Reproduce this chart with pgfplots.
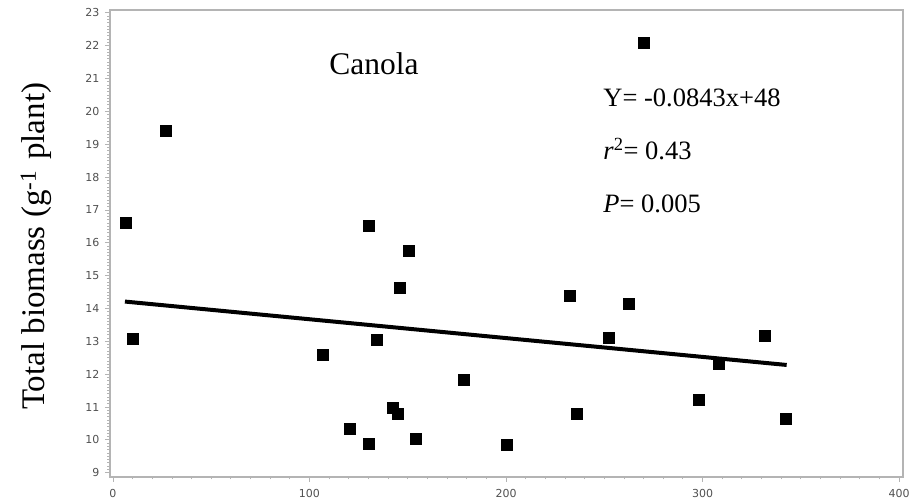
\documentclass[border=0pt]{standalone}
\usepackage{fontspec}
\setmainfont{Liberation Serif}
\newfontfamily\tickfont{DejaVu Sans}
\usepackage{pgfplots}
\pgfplotsset{compat=1.18}
\definecolor{axisgray}{HTML}{B4B4B4}
\definecolor{labgray}{HTML}{505050}
\begin{document}
\begin{tikzpicture}
\begin{axis}[
  scale only axis,
  width=793pt, height=467pt,
  xmin=-1.5, xmax=402,
  ymin=8.87, ymax=23.085,
  xtick={0,100,200,300,400},
  ytick={9,10,...,23},
  minor tick num=9,
  tick pos=left,
  tick align=outside,
  major tick length=5pt,
  minor tick length=2.5pt,
  axis line style={draw=axisgray, line width=1.2pt},
  every tick/.style={draw=axisgray, line width=0.8pt},
  tick label style={font=\tickfont\fontsize{11}{13}\selectfont, text=labgray},
  /pgf/number format/assume math mode=true,
  xticklabel style={yshift=-4pt},
  yticklabel style={xshift=-2pt},
  clip=false]
% observations
\addplot[only marks, mark=square*, mark size=5.5pt, mark options={fill=black, draw=black}] coordinates {
  (6.6,16.61) (26.8,19.40) (10.3,13.07) (106.5,12.59) (134.2,13.04)
  (146.1,14.64) (178.3,11.82) (142.2,10.98) (144.7,10.80) (120.3,10.34)
  (130.1,9.89) (154.2,10.03) (200.3,9.86) (130.1,16.52) (150.3,15.77)
  (270.2,22.10) (232.2,14.38) (262.4,14.14) (252.1,13.12) (331.8,13.18)
  (308.2,12.31) (297.9,11.23) (236.1,10.79) (342.1,10.63)};
% fitted line
\addplot[black, line width=4pt] coordinates {(6.1,14.21) (342.8,12.28)};
\node[anchor=base, font=\fontsize{31.5}{36}\selectfont] at (axis cs:132.8,21.11) {Canola};
\node[anchor=base west, font=\fontsize{26.5}{30}\selectfont] at (axis cs:247.8,20.16) {Y= -0.0843x+48};
\node[anchor=base west, font=\fontsize{26.5}{30}\selectfont] at (axis cs:247.8,18.52) {\textit{r}\textsuperscript{2}= 0.43};
\node[anchor=base west, font=\fontsize{26.5}{30}\selectfont] at (axis cs:247.8,16.91) {\textit{P}= 0.005};
\node[anchor=base, rotate=90, font=\fontsize{33}{38}\selectfont] at (axis cs:-34.6,15.89) {Total biomass (g\textsuperscript{-1}\,\,plant)};
\end{axis}
\pgfresetboundingbox
\path ([xshift=-110pt,yshift=-26pt]current axis.south west) rectangle ([xshift=8pt,yshift=10pt]current axis.north east);
\end{tikzpicture}
\end{document}
